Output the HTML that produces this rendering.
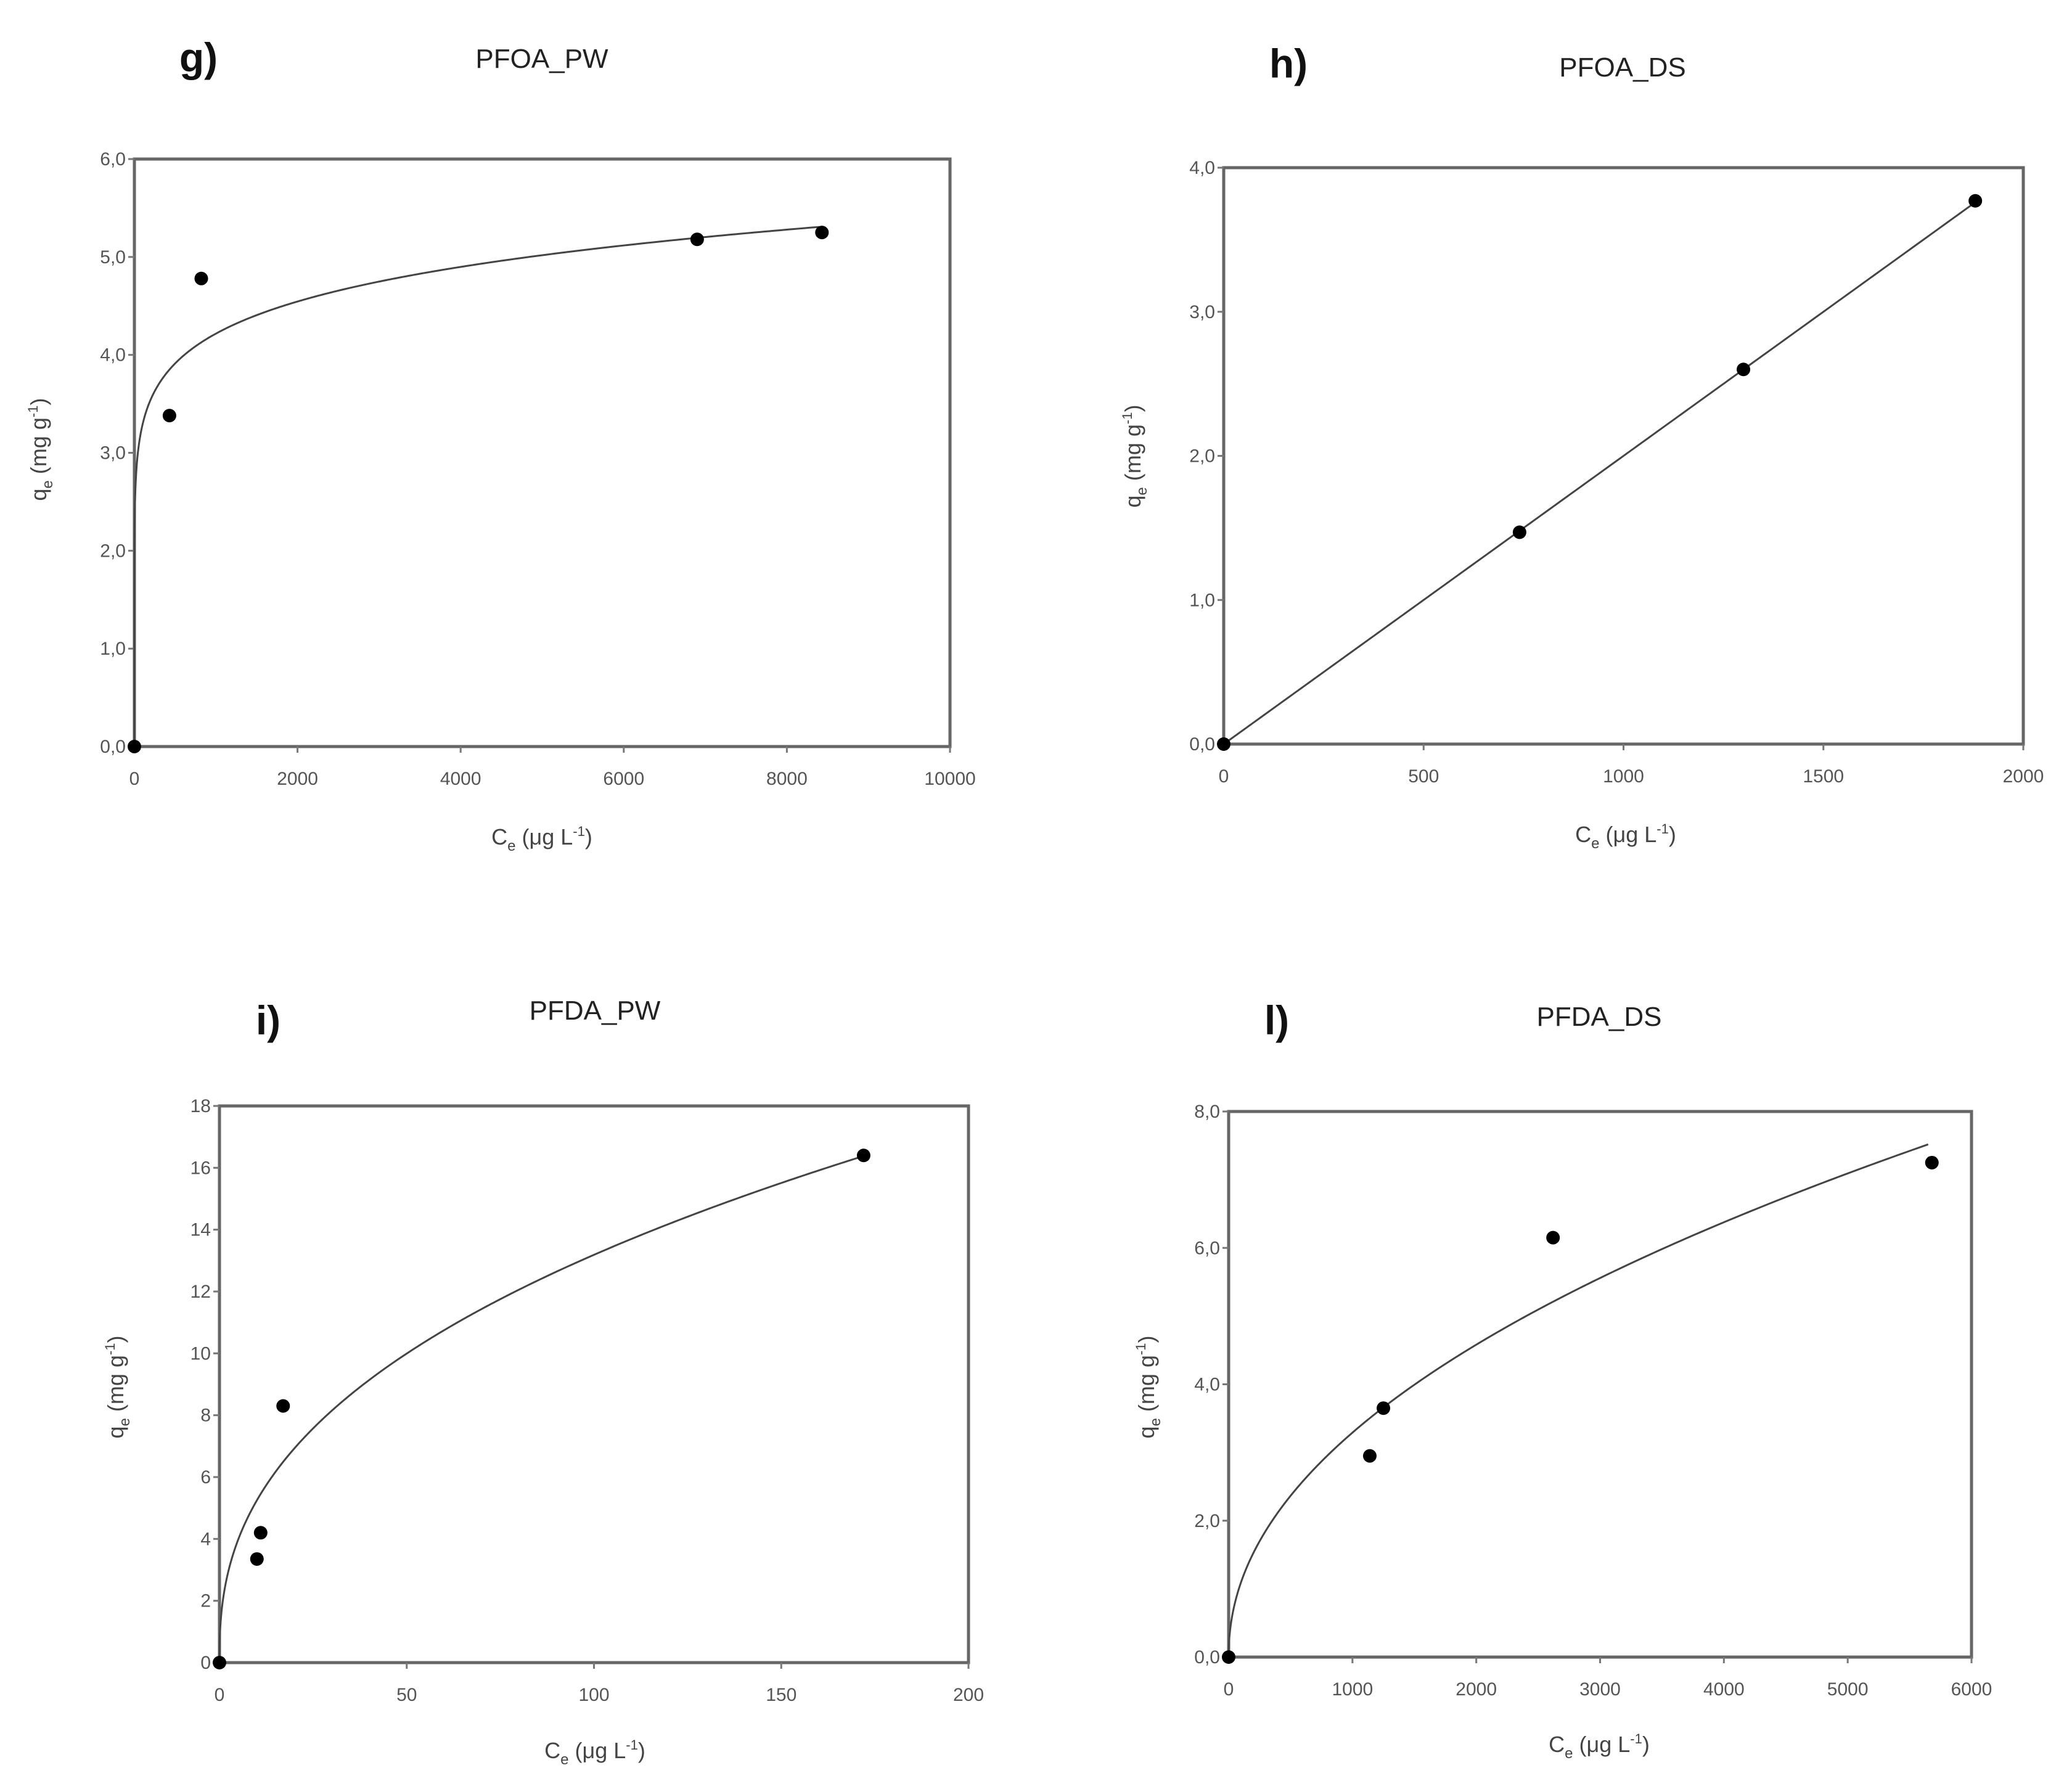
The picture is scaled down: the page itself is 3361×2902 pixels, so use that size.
<!DOCTYPE html>
<html><head><meta charset="utf-8"><style>
html,body{margin:0;padding:0;background:#fff}
svg{display:block}
text{font-family:"Liberation Sans",Arial,sans-serif}
</style></head><body>
<svg id="fig" width="3361" height="2902" viewBox="0 0 3361 2902" xmlns="http://www.w3.org/2000/svg"></svg>
<script>
// Panel g: PFOA_PW
const gX = [0, 430, 820, 6900, 8430];
const gY = [0, 3.38, 4.78, 5.18, 5.25];
const gXTicks = [0, 2000, 4000, 6000, 8000, 10000];
const gYTicks = ["0,0","1,0","2,0","3,0","4,0","5,0","6,0"];
const gFit = [2.0, 0.108, 8400];
// Panel h: PFOA_DS
const hX = [0, 740, 1300, 1880];
const hY = [0, 1.47, 2.6, 3.77];
const hXTicks = [0, 500, 1000, 1500, 2000];
const hYTicks = ["0,0","1,0","2,0","3,0","4,0"];
const hFit = [0.002, 1.0, 1880];
// Panel i: PFDA_PW
const iX = [0, 10, 11, 17, 172];
const iY = [0, 3.35, 4.2, 8.3, 16.4];
const iXTicks = [0, 50, 100, 150, 200];
const iYTicks = ["0","2","4","6","8","10","12","14","16","18"];
const iFit = [2.09, 0.40, 172];
// Panel l: PFDA_DS
const lX = [0, 1140, 1250, 2620, 5680];
const lY = [0, 2.95, 3.65, 6.15, 7.25];
const lXTicks = [0, 1000, 2000, 3000, 4000, 5000, 6000];
const lYTicks = ["0,0","2,0","4,0","6,0","8,0"];
const lFit = [0.122, 0.477, 5650];

const NS = "http://www.w3.org/2000/svg";
const svg = document.getElementById('fig');
function mk(tag, attrs, parent, txt){
  const e = document.createElementNS(NS, tag);
  for (const k in attrs) e.setAttribute(k, attrs[k]);
  if (txt !== undefined) e.textContent = txt;
  (parent||svg).appendChild(e);
  return e;
}
function panel(p){
  const g = mk('g', {});
  
  
  const yMax = parseFloat(p.yTicks[p.yTicks.length-1].replace(',','.'));
  const xMax = p.xTicks[p.xTicks.length-1];
  const sx = v => p.L + (p.R - p.L) * v / xMax;
  const sy = v => p.B - (p.B - p.T) * v / yMax;
  const fr = mk('rect', {x:p.L, y:p.T, width:p.R-p.L, height:p.B-p.T, fill:'none', stroke:'#666', 'stroke-width':5}, g);
  
  
  p.xTicks.forEach(t => {
    const x = sx(t);
    mk('line', {x1:x, x2:x, y1:p.B, y2:p.B+10, stroke:'#777', 'stroke-width':3}, g);
    const tl = mk('text', {x:x, y:p.B+62, 'font-size':30, fill:'#555', 'text-anchor':'middle'}, g, String(t));
    
    
  });
  p.yTicks.forEach((t, i) => {
    const y = sy(parseFloat(t.replace(',','.')));
    mk('line', {x1:p.L-10, x2:p.L, y1:y, y2:y, stroke:'#777', 'stroke-width':3}, g);
    const tl = mk('text', {x:p.L-14, y:y+10, 'font-size':30, fill:'#555', 'text-anchor':'end'}, g, t);
    
    
  });
  const K = p.fit[0], n = p.fit[1], cEnd = p.fit[2];
  let d = '';
  const N = 400;
  for (let k = 0; k <= N; k++) {
    const c = k === 0 ? 0 : cEnd * Math.pow(k / N, 3);
    const q = K * Math.pow(c, n);
    d += (k ? 'L' : 'M') + sx(c).toFixed(2) + ' ' + sy(q).toFixed(2);
  }
  const cv = mk('path', {d:d, fill:'none', stroke:'#444', 'stroke-width':3}, g);
  
  
  p.xs.forEach((v, i) => {
    const c = mk('circle', {cx:sx(v), cy:sy(p.ys[i]), r:11, fill:'#000'}, g);
    
    
  });
  const xl = mk('text', {x:p.xl[0], y:p.xl[1], 'font-size':36, fill:'#444', 'text-anchor':'middle'}, g);
  
  
  xl.innerHTML = 'C<tspan font-size="24" dy="10">e</tspan><tspan dy="-10"> (μg L</tspan><tspan font-size="22" dy="-14">-1</tspan><tspan dy="14">)</tspan>';
  const yl = mk('text', {x:0, y:0, 'font-size':36, fill:'#444', 'text-anchor':'middle', transform:'translate(' + p.yl[0] + ',' + p.yl[1] + ') rotate(-90)'}, g);
  
  
  yl.innerHTML = 'q<tspan font-size="24" dy="10">e</tspan><tspan dy="-10"> (mg g</tspan><tspan font-size="22" dy="-14">-1</tspan><tspan dy="14">)</tspan>';
  const lt = mk('text', {x:p.letter[0], y:p.letter[1], 'font-size':66, 'font-weight':'bold', fill:'#111', 'text-anchor':'middle'}, g, p.id + ')');
  
  
  const tt = mk('text', {x:p.title[0], y:p.title[1], 'font-size':44, fill:'#222', 'text-anchor':'middle'}, g, p.name);
  
  
}
panel({id:'g', name:'PFOA_PW', L:218, R:1541, T:258, B:1211, xs:gX, ys:gY, xTicks:gXTicks, yTicks:gYTicks, fit:gFit, xl:[879,1370], yl:[75,729], letter:[322,116], title:[879,110]});
panel({id:'h', name:'PFOA_DS', L:1985, R:3282, T:272, B:1207, xs:hX, ys:hY, xTicks:hXTicks, yTicks:hYTicks, fit:hFit, xl:[2637,1366], yl:[1850,740], letter:[2090,126], title:[2632,124]});
panel({id:'i', name:'PFDA_PW', L:356, R:1571, T:1794, B:2697, xs:iX, ys:iY, xTicks:iXTicks, yTicks:iYTicks, fit:iFit, xl:[965,2852], yl:[200,2250], letter:[435,1678], title:[965,1654]});
panel({id:'l', name:'PFDA_DS', L:1993, R:3198, T:1803, B:2688, xs:lX, ys:lY, xTicks:lXTicks, yTicks:lYTicks, fit:lFit, xl:[2594,2842], yl:[1872,2250], letter:[2071,1678], title:[2594,1664]});
</script>
</body></html>
